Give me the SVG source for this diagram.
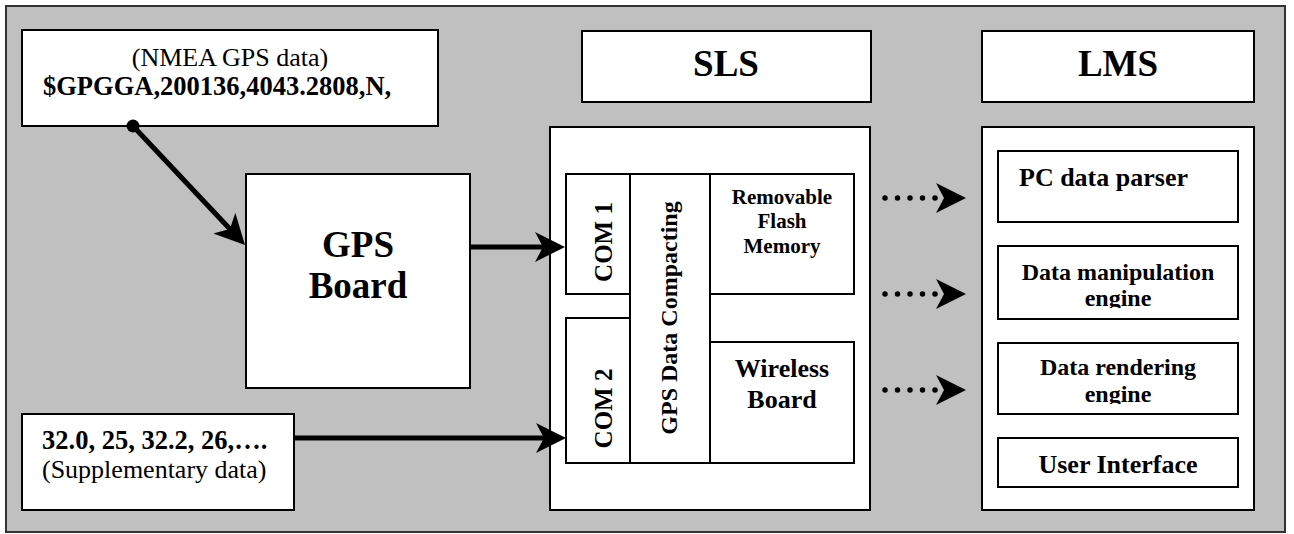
<svg xmlns="http://www.w3.org/2000/svg" width="1294" height="534" viewBox="0 0 1294 534">
  <style>
    .frame { fill: #c0c0c0; stroke: #333; stroke-width: 2; }
    .box { fill: #fff; stroke: #000; stroke-width: 2; }
    .t { font-family: "Liberation Serif", "Times New Roman", serif; fill: #000; }
    .b { font-weight: bold; }
    .mid { text-anchor: middle; }
    .wire { stroke: #000; stroke-width: 5; fill: none; }
    .dots { stroke: #000; stroke-width: 5.5; stroke-linecap: round; stroke-dasharray: 0 12.5; fill: none; }
  </style>
  <defs>
    <!-- notched arrowhead; the line ends at the notch -->
    <marker id="stealth" markerUnits="userSpaceOnUse" viewBox="0 0 30 30" refX="8" refY="15" markerWidth="30" markerHeight="30" orient="auto">
      <path d="M0,0 L30,15 L0,30 L8,15 Z" fill="#000"/>
    </marker>
    <clipPath id="clipDM"><rect x="998" y="246" width="240" height="62"/></clipPath>
    <clipPath id="clipDR"><rect x="998" y="343" width="240" height="61"/></clipPath>
  </defs>

  <!-- background panel -->
  <rect class="frame" x="6" y="6" width="1279" height="526"/>

  <g id="nmea">
    <rect class="box" x="22" y="30" width="416" height="96"/>
    <text class="t mid" x="230" y="66" font-size="26">(NMEA GPS data)</text>
    <text class="t b" x="43" y="95" font-size="26.5">$GPGGA,200136,4043.2808,N,</text>
  </g>

  <g id="gps-board">
    <rect class="box" x="246" y="174" width="224" height="214"/>
    <text class="t b mid" x="358" y="257" font-size="37">GPS</text>
    <text class="t b mid" x="358" y="298" font-size="37">Board</text>
  </g>

  <g id="supplementary">
    <rect class="box" x="22" y="414" width="272" height="96"/>
    <text class="t b" x="42" y="449" font-size="26.5">32.0, 25, 32.2, 26,….</text>
    <text class="t" x="42" y="478" font-size="26">(Supplementary data)</text>
  </g>

  <g id="sls-title">
    <rect class="box" x="582" y="31" width="289" height="71"/>
    <text class="t b mid" x="726" y="76" font-size="37">SLS</text>
  </g>

  <g id="sls">
    <rect class="box" x="550" y="127" width="320" height="383"/>
    <g id="com1">
      <rect class="box" x="566" y="174" width="64" height="120"/>
      <text class="t b mid" transform="translate(612,242) rotate(-90)" font-size="25">COM 1</text>
    </g>
    <g id="com2">
      <rect class="box" x="566" y="318" width="64" height="145"/>
      <text class="t b mid" transform="translate(612,408.5) rotate(-90)" font-size="25">COM 2</text>
    </g>
    <g id="compacting">
      <rect class="box" x="630" y="174" width="80" height="289"/>
      <text class="t b mid" transform="translate(677,318) rotate(-90)" font-size="24">GPS Data Compacting</text>
    </g>
    <g id="flash">
      <rect class="box" x="710" y="174" width="144" height="120"/>
      <text class="t b mid" x="782" y="204" font-size="21">Removable</text>
      <text class="t b mid" x="782" y="228" font-size="21">Flash</text>
      <text class="t b mid" x="782" y="253" font-size="21">Memory</text>
    </g>
    <g id="wireless">
      <rect class="box" x="710" y="342" width="144" height="121"/>
      <text class="t b mid" x="782" y="377" font-size="26">Wireless</text>
      <text class="t b mid" x="782" y="408" font-size="26">Board</text>
    </g>
  </g>

  <g id="lms-title">
    <rect class="box" x="982" y="31" width="272" height="71"/>
    <text class="t b mid" x="1118" y="76" font-size="37">LMS</text>
  </g>

  <g id="lms">
    <rect class="box" x="982" y="127" width="272" height="383"/>
    <g id="parser">
      <rect class="box" x="998" y="151" width="240" height="71"/>
      <text class="t b" x="1019" y="186" font-size="26">PC data parser</text>
    </g>
    <g id="manipulation">
      <rect class="box" x="998" y="246" width="240" height="73"/>
      <g clip-path="url(#clipDM)">
        <text class="t b mid" x="1118" y="280" font-size="24">Data manipulation</text>
        <text class="t b mid" x="1118" y="306" font-size="24">engine</text>
      </g>
    </g>
    <g id="rendering">
      <rect class="box" x="998" y="343" width="240" height="71"/>
      <g clip-path="url(#clipDR)">
        <text class="t b mid" x="1118" y="375" font-size="24">Data rendering</text>
        <text class="t b mid" x="1118" y="402" font-size="24">engine</text>
      </g>
    </g>
    <g id="ui">
      <rect class="box" x="998" y="438" width="240" height="49"/>
      <text class="t b mid" x="1118" y="473" font-size="26">User Interface</text>
    </g>
  </g>

  <g id="connectors">
    <!-- NMEA feed into the GPS board -->
    <circle cx="133" cy="126" r="6.5" fill="#000"/>
    <line class="wire" x1="133" y1="126" x2="229.9" y2="229" marker-end="url(#stealth)"/>
    <!-- GPS board to COM 1 -->
    <line class="wire" x1="470" y1="247" x2="543" y2="247" marker-end="url(#stealth)"/>
    <!-- supplementary data to COM 2 -->
    <line class="wire" x1="294" y1="438" x2="544" y2="438" marker-end="url(#stealth)"/>
    <!-- SLS to LMS transfers -->
    <path class="dots" d="M885,198 H944" marker-end="url(#stealth)"/>
    <path class="dots" d="M885,294 H944" marker-end="url(#stealth)"/>
    <path class="dots" d="M885,390 H944" marker-end="url(#stealth)"/>
  </g>
</svg>
